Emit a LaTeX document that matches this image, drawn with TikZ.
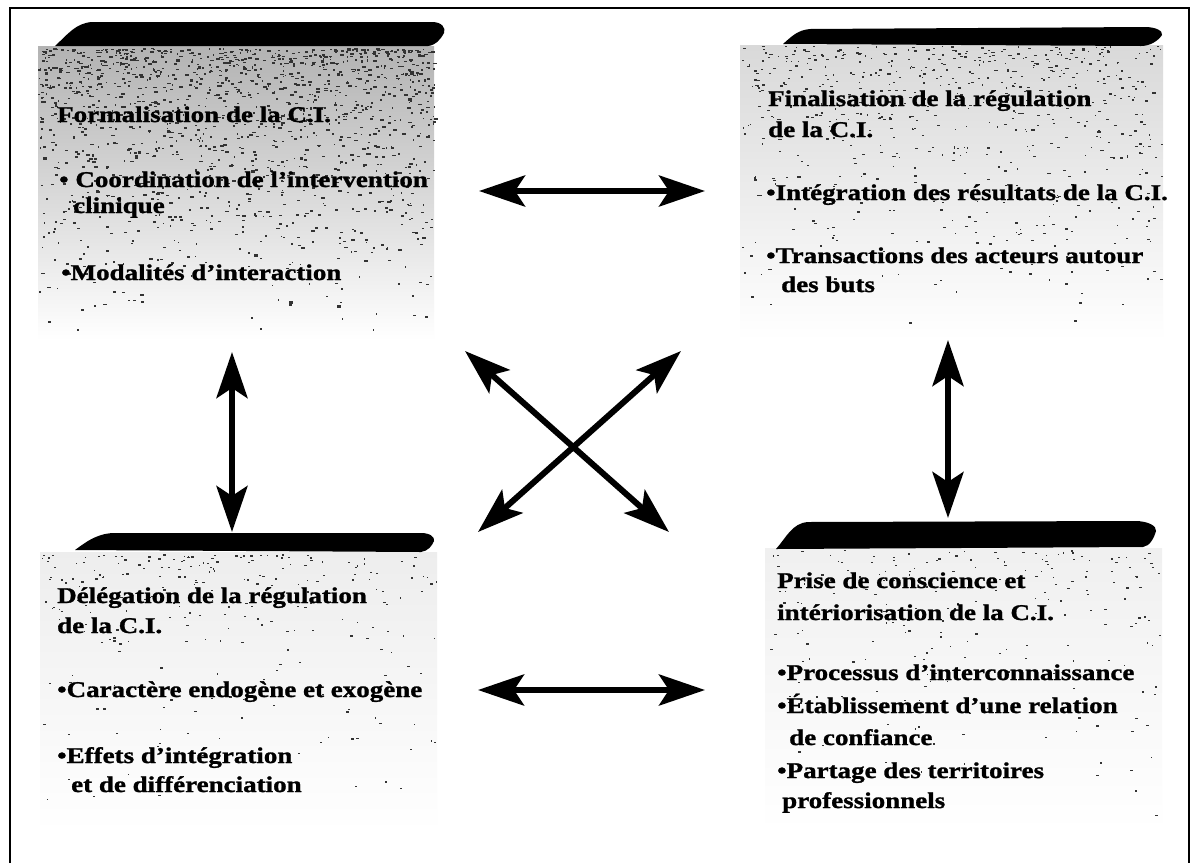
\documentclass[tikz,border=0pt]{standalone}
\usepackage{fontspec}
\setmainfont{Liberation Serif}[FakeStretch=1.2,FakeBold=1.2]
\usetikzlibrary{arrows.meta}
\tikzset{
  txt/.style={anchor=base west, inner sep=0pt, font=\fontsize{22.5}{27}\selectfont\bfseries},
  dblarrow/.style={line width=6pt, {Stealth[length=46pt,width=31pt,inset=10pt]}-{Stealth[length=46pt,width=31pt,inset=10pt]}},
  brush/.style={fill=black},
  shadebox/.style={inner sep=0pt, draw=none, bottom color=white},
  speck/.style={fill=black!80},
}
\begin{document}
\begin{tikzpicture}[x=1pt,y=-1pt]
\useasboundingbox (0,0) rectangle (1194,863);
\fill[white] (0,0) rectangle (1194,863);
\pgfmathsetseed{7}
% shaded panels
\node[shadebox, top color=black!30, minimum width=396pt, minimum height=294pt] (tlbox) at (236,193) {};
\node[shadebox, top color=black!15, minimum width=423pt, minimum height=295pt] (trbox) at (951.5,192.5) {};
\node[shadebox, top color=black!7, minimum width=397pt, minimum height=280pt] (blbox) at (238.5,692) {};
\node[shadebox, top color=black!6, minimum width=397pt, minimum height=284pt] (brbox) at (963.5,690) {};
% speckles
\foreach \i in {1,...,1500}{\fill[speck] ({38+396*rnd},{48+292*rnd*rnd}) rectangle ++({1+3*rnd},{1+1.2*rnd});}
\foreach \i in {1,...,650}{\fill[speck] ({742+420*rnd},{46+292*rnd*rnd}) rectangle ++({1+2.5*rnd},1.3);}
\foreach \i in {1,...,260}{\fill[speck] ({42+394*rnd},{554+276*rnd*rnd}) rectangle ++({1+2*rnd},1.3);}
\foreach \i in {1,...,220}{\fill[speck] ({767+394*rnd},{550+280*rnd*rnd}) rectangle ++({1+2*rnd},1.3);}
% frame
\draw[line width=1.6pt] (10,863) -- (10,8) -- (1189,8) -- (1189,863);
% brush bars
\fill[brush] (55,46) .. controls (68,34) and (76,23) .. (92,22) -- (432,22) .. controls (442,22) and (446,28) .. (444,33) .. controls (440,40) and (436,45) .. (428,46) -- cycle;
\fill[brush] (783,44) .. controls (792,36) and (798,30) .. (810,29) -- (1145,27) .. controls (1156,27) and (1163,31) .. (1162,35) .. controls (1158,41) and (1150,46) .. (1141,46) -- cycle;
\fill[brush] (75,550) .. controls (86,542) and (96,534) .. (113,533) -- (421,533) .. controls (430,533) and (435,537) .. (434,541) .. controls (432,546) and (428,551) .. (421,552) -- cycle;
\fill[brush] (776,549) .. controls (786,538) and (792,523) .. (808,522) -- (1135,521) .. controls (1148,521) and (1157,526) .. (1156,531) .. controls (1154,538) and (1150,546) .. (1143,547) -- cycle;
% texts top-left
\node[txt] (tl1) at (57,122) {Formalisation de la C.I.};
\node[txt] (tl2) at (59,187) {• Coordination de l’intervention};
\node[txt] (tl3) at (73,213) {clinique};
\node[txt] (tl4) at (61,280) {•Modalités d’interaction};
% texts top-right
\node[txt] (tr1) at (768,106) {Finalisation de la régulation};
\node[txt] (tr2) at (768,137) {de la C.I.};
\node[txt] (tr3) at (766,200) {•Intégration des résultats de la C.I.};
\node[txt] (tr4) at (766,263) {•Transactions des acteurs autour};
\node[txt] (tr5) at (781,292) {des buts};
% texts bottom-left
\node[txt] (bl1) at (57,603) {Délégation de la régulation};
\node[txt] (bl2) at (57,633) {de la C.I.};
\node[txt] (bl3) at (57,697) {•Caractère endogène et exogène};
\node[txt] (bl4) at (57,763) {•Effets d’intégration};
\node[txt] (bl5) at (71,792) {et de différenciation};
% texts bottom-right
\node[txt] (br1) at (777,588) {Prise de conscience et};
\node[txt] (br2) at (777,620) {intériorisation de la C.I.};
\node[txt] (br3) at (777,680) {•Processus d’interconnaissance};
\node[txt] (br4) at (777,713) {•Établissement d’une relation};
\node[txt] (br5) at (789,745) {de confiance};
\node[txt] (br6) at (777,778) {•Partage des territoires};
\node[txt] (br7) at (782,808) {professionnels};
% arrow ends
\coordinate (h1a) at (479,191); \coordinate (h1b) at (705,191);
\coordinate (h2a) at (478,690); \coordinate (h2b) at (705,690);
\coordinate (v1a) at (232,352); \coordinate (v1b) at (232,532);
\coordinate (v2a) at (948,340); \coordinate (v2b) at (948,518);
\coordinate (x1a) at (465,351); \coordinate (x1b) at (669,532);
\coordinate (x2a) at (681,351); \coordinate (x2b) at (478,532);
\draw[dblarrow] (h1a) -- (h1b);
\draw[dblarrow] (h2a) -- (h2b);
\draw[dblarrow] (v1a) -- (v1b);
\draw[dblarrow] (v2a) -- (v2b);
\draw[dblarrow] (x1a) -- (x1b);
\draw[dblarrow] (x2a) -- (x2b);
\end{tikzpicture}
\end{document}
